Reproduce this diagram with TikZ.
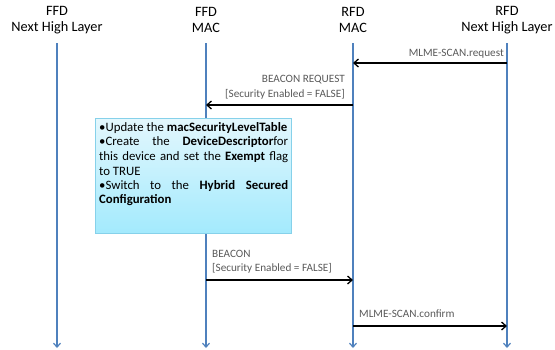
\documentclass[tikz,border=0pt]{standalone}
\usepackage{fontspec}
\setmainfont{Carlito}
\usetikzlibrary{arrows.meta}
\definecolor{lifeblue}{HTML}{4F81BD}
\definecolor{msggray}{HTML}{595959}
\definecolor{boxtop}{HTML}{E3F7FD}
\definecolor{boxbot}{HTML}{A3EAFD}
\definecolor{boxedge}{HTML}{86D1EA}
\tikzset{
  header/.style={align=center, font=\fontsize{14.3}{16}\selectfont, inner sep=0pt},
  lifeline/.style={draw=lifeblue, line width=1.4pt, -{Straight Barb[length=4pt,width=7pt,line width=1.2pt]}},
  msg/.style={draw=black, line width=1.5pt, -{Straight Barb[length=4.5pt,width=8pt,line width=1.3pt]}},
  lbl/.style={text=msggray, font=\fontsize{11.2}{14}\selectfont, inner sep=0pt},
  notebox/.style={draw=boxedge, line width=0.8pt, top color=boxtop, bottom color=boxbot},
  boxtxt/.style={font=\fontsize{12.8}{14.6}\selectfont, inner sep=0pt, anchor=west}
}
\begin{document}
\begin{tikzpicture}[x=1pt,y=-1pt]
\useasboundingbox (0,0) rectangle (555,349);
% headers
\node[header] (h1) at (57,20) {FFD\\Next High Layer};
\node[header] (h2) at (206,20) {FFD\\MAC};
\node[header] (h3) at (353,20) {RFD\\MAC};
\node[header] (h4) at (507,20) {RFD\\Next High Layer};
% lifeline endpoints
\foreach \n/\x in {1/57,2/206,3/353,4/507}{
  \coordinate (t\n) at (\x,43);
  \coordinate (b\n) at (\x,348);
}
\foreach \n in {1,2,3,4}{ \draw[lifeline] (t\n) -- (b\n); }
% message anchors
\coordinate (m1s) at (507,63);  \coordinate (m1e) at (353,63);
\coordinate (m2s) at (353,105); \coordinate (m2e) at (206,105);
\coordinate (m3s) at (206,280); \coordinate (m3e) at (353,280);
\coordinate (m4s) at (353,326); \coordinate (m4e) at (507,326);
\draw[msg] (m1s) -- (m1e);
\draw[msg] (m2s) -- (m2e);
\draw[msg] (m3s) -- (m3e);
\draw[msg] (m4s) -- (m4e);
% labels
\node[lbl, anchor=east] (l1) at (504,54) {MLME-SCAN.request};
\node[lbl, anchor=east] (l2a) at (345,80) {BEACON REQUEST};
\node[lbl, anchor=east] (l2b) at (345,94) {[Security Enabled = FALSE]};
\node[lbl, anchor=west] (l3a) at (212,254) {BEACON};
\node[lbl, anchor=west] (l3b) at (212,268) {[Security Enabled = FALSE]};
\node[lbl, anchor=west] (l4) at (359,314) {MLME-SCAN.confirm};
% note box
\node[notebox, minimum width=196pt, minimum height=115pt, anchor=north west, inner sep=0pt] (box) at (95,118) {};
\node[boxtxt] (r1) at (99,128) {•Update the \textbf{macSecurityLevelTable}};
\node[boxtxt] (r2) at (99,142.5) {\makebox[189pt][s]{•Create the \textbf{DeviceDescriptor}for}};
\node[boxtxt] (r3) at (99,157) {\makebox[189pt][s]{this device and set the \textbf{Exempt} flag}};
\node[boxtxt] (r4) at (99,171.5) {to TRUE};
\node[boxtxt] (r5) at (99,186) {\makebox[189pt][s]{•Switch to the \textbf{Hybrid Secured}}};
\node[boxtxt] (r6) at (99,200.5) {\textbf{Configuration}};
\end{tikzpicture}
\end{document}
